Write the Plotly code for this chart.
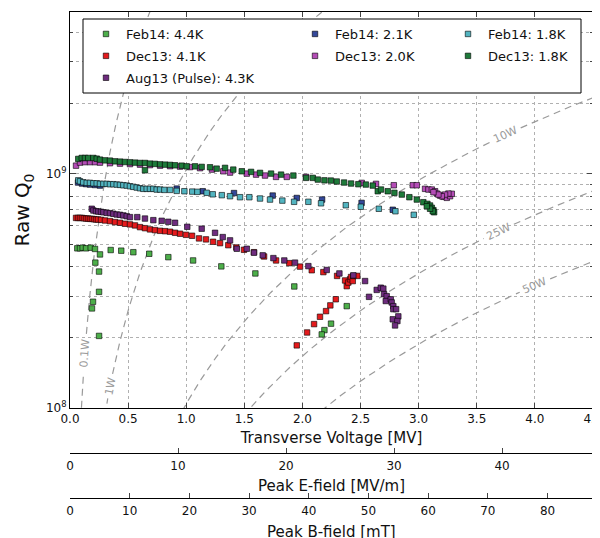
import numpy as np
import plotly.graph_objects as go

# ---------------- data (V in MV, Q in units of 1e8) ----------------
feb14_44k_v = [0.063, 0.086, 0.109, 0.138, 0.178, 0.215, 0.258, 0.218, 0.250, 0.250, 0.198, 0.189, 0.250,
               0.350, 0.441, 0.545, 0.682, 0.846, 1.059, 1.302, 1.595, 1.930, 2.381, 2.246, 2.189, 2.166]
feb14_44k_q = [4.80, 4.80, 4.83, 4.80, 4.83, 4.77, 4.52, 4.17, 3.82, 3.13, 2.84, 2.66, 2.03,
               4.72, 4.69, 4.62, 4.55, 4.40, 4.26, 4.02, 3.75, 3.30, 2.72, 2.29, 2.15, 2.06]

dec13_41k_v = [0.052, 0.069, 0.086, 0.103, 0.120, 0.138, 0.155, 0.172, 0.189, 0.207, 0.224, 0.241, 0.267,
               0.301, 0.344, 0.387, 0.430, 0.473, 0.516, 0.559, 0.602, 0.645, 0.688, 0.731, 0.775, 0.818,
               0.861, 0.904, 0.947, 0.998, 1.050, 1.110, 1.170, 1.231, 1.291, 1.362, 1.431, 1.497, 1.583,
               1.670, 1.773, 1.887, 1.979, 2.080, 2.180, 2.298, 2.367, 2.381, 2.395, 2.410, 2.418, 2.433,
               2.438, 2.472, 2.287, 2.240, 2.203, 2.151, 2.100, 2.040, 1.951]
dec13_41k_q = [6.47, 6.47, 6.47, 6.47, 6.45, 6.43, 6.43, 6.41, 6.41, 6.39, 6.37, 6.37, 6.35,
               6.31, 6.27, 6.21, 6.17, 6.11, 6.07, 6.01, 5.91, 5.85, 5.78, 5.74, 5.70, 5.68,
               5.65, 5.59, 5.54, 5.48, 5.43, 5.29, 5.24, 5.12, 5.05, 4.95, 4.84, 4.73, 4.62,
               4.43, 4.26, 4.15, 4.01, 3.87, 3.80, 3.66, 3.50, 3.31, 3.43, 3.54, 3.62, 3.48,
               3.66, 3.66, 2.91, 2.74, 2.59, 2.45, 2.28, 2.10, 1.85]

aug13_43k_v = [0.187, 0.201, 0.224, 0.244, 0.267, 0.287, 0.316, 0.344, 0.373, 0.402, 0.430, 0.459, 0.488,
               0.516, 0.579, 0.645, 0.717, 0.789, 0.846, 0.904, 1.009, 1.133, 1.248, 1.314, 1.377, 1.435,
               1.521, 1.583, 1.658, 1.750, 1.844, 1.936, 2.051, 2.209, 2.318, 2.438, 2.539, 2.639, 2.674,
               2.696, 2.573, 2.702, 2.725, 2.717, 2.760, 2.768, 2.782, 2.782, 2.806, 2.777, 2.825, 2.817,
               2.797]
aug13_43k_q = [7.08, 6.96, 6.91, 6.89, 6.87, 6.84, 6.80, 6.78, 6.74, 6.69, 6.67, 6.63, 6.58,
               6.52, 6.52, 6.43, 6.33, 6.29, 6.23, 6.17, 5.93, 5.82, 5.59, 5.36, 5.19, 4.78,
               4.78, 4.60, 4.48, 4.36, 4.26, 4.17, 4.03, 3.88, 3.75, 3.68, 3.48, 3.19, 3.26,
               3.23, 2.98, 3.06, 3.00, 2.86, 2.91, 2.82, 2.72, 2.64, 2.64, 2.39, 2.46, 2.35,
               2.25]

feb14_21k_v = [0.069, 0.103, 0.138, 0.172, 0.215, 0.258, 0.918, 1.142, 1.411, 1.744, 1.951, 2.169, 2.509, 2.777]
feb14_21k_q = [9.16, 9.07, 9.02, 8.98, 8.94, 8.89, 8.63, 8.41, 8.26, 8.06, 7.87, 7.75, 7.50, 7.01]

dec13_20k_v = [0.052, 0.086, 0.129, 0.172, 0.215, 0.258, 0.344, 0.430, 0.516, 0.602, 0.688, 0.775, 0.861,
               0.947, 1.033, 1.119, 1.222, 1.319, 1.377, 1.521, 1.601, 1.678, 1.773, 1.865, 2.031, 2.510,
               2.633, 2.786, 2.949, 2.984, 3.055, 3.084, 3.113, 3.141, 3.156, 3.184, 3.213, 3.242, 3.270,
               3.285, 3.256, 3.227, 3.199, 3.170, 3.127]
dec13_20k_q = [10.81, 11.14, 11.19, 11.19, 11.19, 11.14, 11.08, 11.03, 10.98, 10.92, 10.87, 10.81, 10.76,
               10.71, 10.66, 10.55, 10.40, 10.23, 10.10, 10.00, 9.90, 9.81, 9.68, 9.68, 9.68, 9.13,
               9.04, 8.92, 8.92, 8.92, 8.61, 8.55, 8.55, 8.41, 8.22, 8.06, 7.96, 7.88, 8.01,
               8.20, 8.22, 8.14, 8.01, 8.14, 8.33]

feb14_18k_v = [0.071, 0.086, 0.114, 0.144, 0.172, 0.201, 0.230, 0.258, 0.287, 0.316, 0.344, 0.373, 0.402,
               0.430, 0.459, 0.488, 0.516, 0.545, 0.574, 0.602, 0.631, 0.660, 0.688, 0.717, 0.746, 0.775,
               0.812, 0.861, 0.918, 0.984, 1.052, 1.096, 1.176, 1.228, 1.306, 1.377, 1.463, 1.543, 1.635,
               1.721, 1.827, 1.928, 2.051, 2.160, 2.373, 2.502, 2.657, 2.800, 2.958]
feb14_18k_q = [9.36, 9.27, 9.18, 9.13, 9.13, 9.09, 9.09, 9.04, 9.04, 9.04, 9.01, 9.01, 8.98,
               8.95, 8.92, 8.89, 8.83, 8.78, 8.72, 8.66, 8.61, 8.61, 8.61, 8.61, 8.55, 8.55,
               8.52, 8.52, 8.44, 8.41, 8.38, 8.36, 8.28, 8.16, 8.09, 8.01, 7.93, 7.93, 7.83,
               7.75, 7.67, 7.58, 7.58, 7.47, 7.33, 7.22, 7.08, 6.91, 6.67]

dec13_18k_v = [0.071, 0.101, 0.129, 0.157, 0.201, 0.230, 0.258, 0.301, 0.344, 0.387, 0.430, 0.473, 0.516,
               0.559, 0.602, 0.645, 0.688, 0.731, 0.775, 0.818, 0.861, 0.904, 0.961, 1.004, 1.076, 1.133,
               1.205, 1.262, 1.334, 1.405, 1.478, 1.558, 1.635, 1.730, 1.816, 1.922, 2.031, 2.089, 2.132,
               2.189, 2.244, 2.295, 2.358, 2.418, 2.481, 2.545, 2.605, 2.648, 2.676, 2.734, 2.791, 2.855,
               2.920, 2.984, 3.040, 3.075, 3.098, 3.113, 3.127, 3.133, 3.121, 3.098, 3.070, 0.645]
dec13_18k_q = [11.55, 11.66, 11.66, 11.66, 11.66, 11.58, 11.47, 11.39, 11.36, 11.28, 11.25, 11.21, 11.17,
               11.14, 11.10, 11.10, 11.03, 11.00, 10.95, 10.92, 10.89, 10.85, 10.81, 10.74, 10.74, 10.68,
               10.64, 10.50, 10.58, 10.40, 10.23, 10.17, 10.07, 10.00, 9.90, 9.81, 9.59, 9.59, 9.43,
               9.36, 9.34, 9.25, 9.16, 9.07, 9.01, 8.98, 8.89, 8.41, 8.55, 8.41, 8.28, 8.14,
               7.93, 7.75, 7.55, 7.43, 7.31, 7.15, 6.98, 6.84, 6.91, 7.08, 7.26, 10.33]

series_names = ["Feb14: 4.4K", "Dec13: 4.1K", "Aug13 (Pulse): 4.3K", "Feb14: 2.1K",
                "Dec13: 2.0K", "Feb14: 1.8K", "Dec13: 1.8K"]
series_v = [feb14_44k_v, dec13_41k_v, aug13_43k_v, feb14_21k_v, dec13_20k_v, feb14_18k_v, dec13_18k_v]
series_q = [feb14_44k_q, dec13_41k_q, aug13_43k_q, feb14_21k_q, dec13_20k_q, feb14_18k_q, dec13_18k_q]
series_colors = ["#4daf4a", "#e41a1c", "#6e2c7e", "#34489a", "#b44cb6", "#52b4c0", "#1e7a3a"]
series_legend = ["legend", "legend", "legend", "legend2", "legend2", "legend3", "legend3"]

# constant dissipated power contours
power_levels_w = [0.1, 1, 10, 25, 50]
power_label_v = [0.128, 0.345, 3.75, 3.69, 4.0]
r_over_q_ohm = 960.0

# secondary scales (per MV of transverse voltage)
e_per_mv = 10.76
b_per_mv = 19.47

# ---------------- layout geometry ----------------
# The page body has an 8 px margin, so the figure is made 8 px smaller
# and every target position (screen pixels) is shifted by OFF.
OFF = 8
W, H = 600 - OFF, 538 - OFF
PLOT_L, PLOT_R, PLOT_T, PLOT_B = 70, 593, 12, 408   # screen px
PAPER_B = 530                                        # screen px
E_LINE, B_LINE = 453, 498                            # screen px of the extra scales
ML = PLOT_L - OFF
MR = 600 - PLOT_R
MT = PLOT_T - OFF
MB = 538 - PAPER_B
PW = W - ML - MR
PH = H - MT - MB
Y_DOM0 = (PAPER_B - PLOT_B) / PH
X_MAX = 4.5
Y_LOG = [8.0, 9.6894]
PLOT_H = PLOT_B - PLOT_T


def to_px(v):
    return PLOT_L + np.asarray(v) / X_MAX * PW


def to_py(q):
    return PLOT_T + (Y_LOG[1] - np.log10(q)) / (Y_LOG[1] - Y_LOG[0]) * PLOT_H


def frac_y(py):
    return (PAPER_B - py) / PH


def frac_x(px):
    return (px - PLOT_L) / PW


fig = go.Figure()
annotations = []

GRAY = "#9a9a9a"
for p, vl in zip(power_levels_w, power_label_v):
    v = np.geomspace(0.02, 4.7, 2500)
    q = (v * 1e6) ** 2 / (r_over_q_ohm * p)
    ql = (vl * 1e6) ** 2 / (r_over_q_ohm * p)
    pxl, pyl = to_px(vl), to_py(ql)
    label = f"{p:g}W"
    half = len(label) * 3.6 + 5
    d = np.hypot(to_px(v) - pxl, to_py(q) - pyl)
    qq = [None if dd < half else float(val) for dd, val in zip(d, q)]
    fig.add_trace(go.Scatter(x=v, y=qq, mode="lines", showlegend=False, hoverinfo="skip",
                             line=dict(color=GRAY, width=1.2, dash="7px,5px")))
    v1, v2 = vl * 0.99, vl * 1.01
    q1 = (v1 * 1e6) ** 2 / (r_over_q_ohm * p)
    q2 = (v2 * 1e6) ** 2 / (r_over_q_ohm * p)
    ang = np.degrees(np.arctan2(to_py(q2) - to_py(q1), to_px(v2) - to_px(v1)))
    annotations.append(dict(x=vl, y=np.log10(ql), xref="x", yref="y", text=label,
                            showarrow=False, textangle=float(ang),
                            font=dict(size=11, color=GRAY, family="DejaVu Sans")))

for name, vs, qs, col, lg in zip(series_names, series_v, series_q, series_colors, series_legend):
    fig.add_trace(go.Scatter(
        x=vs, y=[q * 1e8 for q in qs], mode="markers", name=name, legend=lg, legendgroup=name,
        marker=dict(symbol="square", size=5.5, color=col, line=dict(color="rgba(0,0,0,0.85)", width=0.7)),
    ))

minor_vals = [m * 10 ** e for e in (8, 9) for m in range(2, 10) if m * 10 ** e < 10 ** Y_LOG[1]]

# titles of the two extra scales (placed explicitly)
annotations.append(dict(x=0.5, y=frac_y(486), xref="paper", yref="paper", text="Peak E-field [MV/m]",
                        showarrow=False, xanchor="center", yanchor="middle", font=dict(size=15)))
annotations.append(dict(x=0.5, y=frac_y(532), xref="paper", yref="paper", text="Peak B-field [mT]",
                        showarrow=False, xanchor="center", yanchor="middle", font=dict(size=15)))

grid_col = "#b0b0b0"
fig.update_layout(
    width=W, height=H, margin=dict(l=ML, r=MR, t=MT, b=MB, autoexpand=False),
    paper_bgcolor="white", plot_bgcolor="white",
    font=dict(family="DejaVu Sans", size=12, color="#111"),
    xaxis=dict(range=[0, X_MAX], dtick=0.5, tickformat=".1f", ticks="inside", ticklen=5,
               automargin=False, ticklabeloverflow="allow",
               showline=True, linecolor="black", linewidth=1, mirror="ticks",
               showgrid=True, gridcolor=grid_col, griddash="dot", gridwidth=1, zeroline=False,
               title=dict(text="Transverse Voltage [MV]", font=dict(size=15), standoff=7),
               tickfont=dict(size=12)),
    yaxis=dict(type="log", range=Y_LOG, domain=[Y_DOM0, 1], automargin=False,
               tickvals=[1e8, 1e9], ticktext=["10<sup>8</sup>", "10<sup>9</sup>"],
               ticks="inside", ticklen=6, showline=True, linecolor="black", linewidth=1, mirror="ticks",
               showgrid=True, gridcolor=grid_col, griddash="dot", gridwidth=1, zeroline=False,
               minor=dict(tickvals=minor_vals, ticks="inside", ticklen=3, showgrid=True,
                          gridcolor=grid_col, griddash="dot", gridwidth=1),
               title=dict(text="Raw Q<sub>0</sub>", font=dict(size=20), standoff=10),
               tickfont=dict(size=12)),
    xaxis2=dict(overlaying="x", anchor="free", position=frac_y(E_LINE), side="bottom", automargin=False,
                range=[0, X_MAX * e_per_mv], dtick=10, ticks="inside", ticklen=5, ticklabelstandoff=2,
                showline=True, linecolor="black", linewidth=1, showgrid=False, zeroline=False,
                tickfont=dict(size=12)),
    xaxis3=dict(overlaying="x", anchor="free", position=frac_y(B_LINE), side="bottom", automargin=False,
                range=[0, X_MAX * b_per_mv], dtick=10, ticks="inside", ticklen=5, ticklabelstandoff=2,
                showline=True, linecolor="black", linewidth=1, showgrid=False, zeroline=False,
                tickfont=dict(size=12)),
    annotations=annotations,
    shapes=[dict(type="rect", xref="paper", yref="paper", x0=frac_x(83), x1=frac_x(581),
                 y0=frac_y(93), y1=frac_y(19), line=dict(color="black", width=1),
                 fillcolor="white", layer="above")],
)

leg_common = dict(bgcolor="rgba(0,0,0,0)", borderwidth=0, font=dict(size=13, color="#111"),
                  xanchor="left", yanchor="top", tracegroupgap=2, itemwidth=30)
fig.update_layout(
    legend=dict(x=frac_x(86), y=frac_y(19), **leg_common),
    legend2=dict(x=frac_x(295), y=frac_y(19), **leg_common),
    legend3=dict(x=frac_x(448), y=frac_y(19), **leg_common),
)

# dummy traces so the extra scales are drawn
fig.add_trace(go.Scatter(x=[0], y=[1e8], xaxis="x2", mode="markers", marker=dict(opacity=0),
                         showlegend=False, hoverinfo="skip"))
fig.add_trace(go.Scatter(x=[0], y=[1e8], xaxis="x3", mode="markers", marker=dict(opacity=0),
                         showlegend=False, hoverinfo="skip"))

fig.write_html("out.html")
